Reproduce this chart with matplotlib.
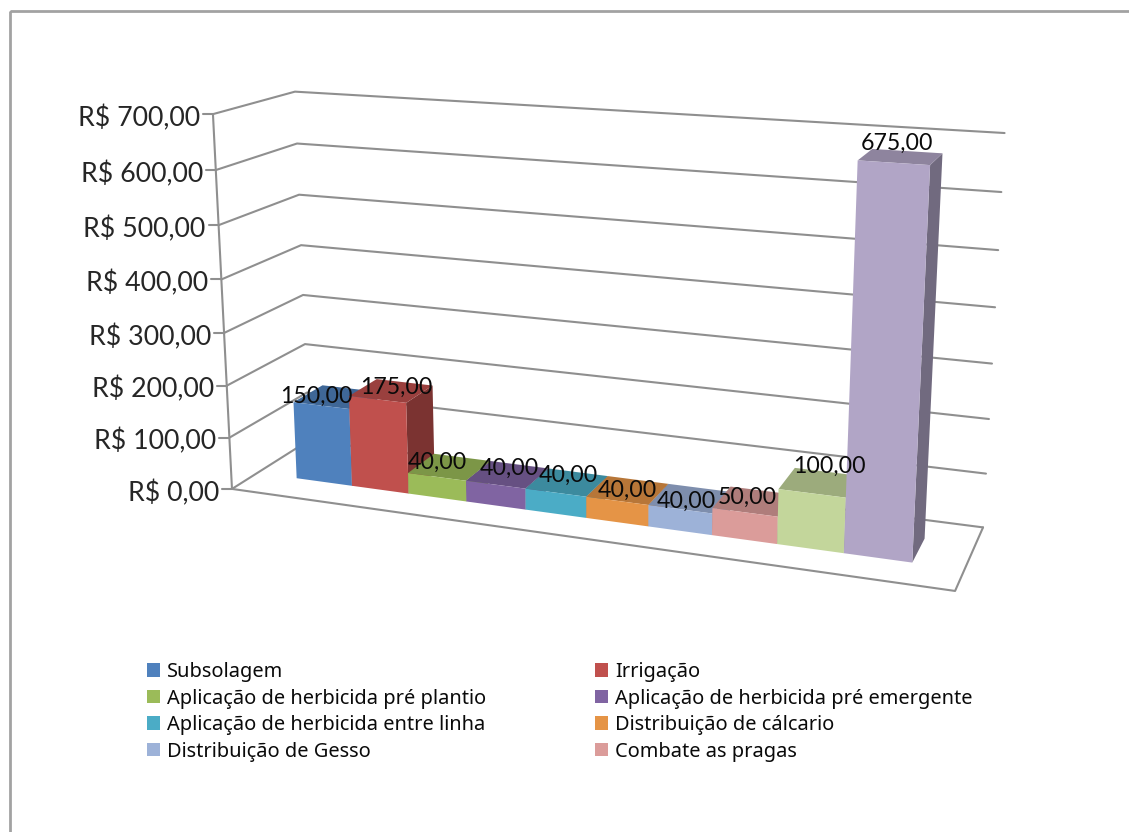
import numpy as np
import matplotlib
matplotlib.use("Agg")
import matplotlib.pyplot as plt
from matplotlib.patches import Polygon, Patch, Rectangle

plt.rcParams["font.family"] = ["Lato", "DejaVu Sans"]

# Chart data
SERIES_VALUES = [150, 175, 40, 40, 40, 40, 40, 50, 100, 675]
SERIES_COLORS = ["#4F81BD", "#C0504D", "#9BBB59", "#8064A2", "#4BACC6",
                 "#E59446", "#9DB2D8", "#DB9C9A", "#C3D69B", "#B1A5C6"]
LEGEND_NAMES = ["Subsolagem", "Irrigação",
                "Aplicação de herbicida pré plantio", "Aplicação de herbicida pré emergente",
                "Aplicação de herbicida entre linha", "Distribuição de cálcario",
                "Distribuição de Gesso", "Combate as pragas"]
AXIS_TICKS = [0, 100, 200, 300, 400, 500, 600, 700]
AXIS_MAX = 700

# Camera calibration: (x, value, depth) -> canvas pixel
CAMERA_ANCHORS = [
    (0, 0, 0, 232, 489), (0, 700, 0, 213, 114), (1, 0, 0, 955, 591),
    (0, 700, 1, 295, 92), (0, 600, 1, 297, 143), (0, 500, 1, 299, 195), (0, 200, 1, 305, 344),
    (1, 700, 1, 1004, 133), (1, 600, 1, 1002, 192), (1, 100, 1, 986, 474), (1, 0, 1, 983, 527),
]

# Bar placement on the floor, as fractions of its width and depth
BAR_START = 0.0630
BAR_WIDTH = 0.0872
BAR_FRONT = 0.315
BAR_BACK = 0.70

# Shading of the faces that do not look at the viewer
TOP_SHADE = 0.80
SIDE_SHADE = 0.64

# Value label offsets from the centre of each bar's top, in pixels
LABEL_NUDGE = [(-19, -1), (5, -3), (-12, -5), (2, -6), (1, -7), (0, 0), (-4, 3), (-6, -4), (10, -16), (-4, -13)]

GRID_COLOR = "#8f8f8f"
TEXT_COLOR = "#0a0a0a"


def fit_camera(anchors):
    rows, rhs = [], []
    for x, val, z, u, v in anchors:
        w = val / AXIS_MAX
        rows.append([x, w, z, 1, 0, 0, 0, 0, -u * x, -u * w, -u * z])
        rhs.append(u)
        rows.append([0, 0, 0, 0, x, w, z, 1, -v * x, -v * w, -v * z])
        rhs.append(v)
    sol = np.linalg.lstsq(np.array(rows, float), np.array(rhs, float), rcond=None)[0]
    return np.append(sol, 1.0).reshape(3, 4)


CAM = fit_camera(CAMERA_ANCHORS)


def project(x, val, z):
    h = CAM @ np.array([x, val / AXIS_MAX, z, 1.0])
    return h[0] / h[2], h[1] / h[2]


def shade(color, factor):
    rgb = np.array(matplotlib.colors.to_rgb(color))
    return tuple(rgb * factor)


def brl(value):
    return f"{value:.2f}".replace(".", ",")


fig = plt.figure(figsize=(11.29, 8.32), dpi=100)
ax = fig.add_axes([0, 0, 1, 1])
ax.set_xlim(0, 1129)
ax.set_ylim(832, 0)
ax.axis("off")

# Chart-area outline: runs off the canvas on the right and at the bottom
ax.add_patch(Rectangle((9.5, 11), 1200, 900, fill=False, ec="#a2a2a2", lw=2.0, zorder=1))

# Walls and floor
line_style = dict(color=GRID_COLOR, lw=1.5, solid_capstyle="round", solid_joinstyle="round", zorder=2)
for tick in AXIS_TICKS:
    a, b, c = project(0, tick, 0), project(0, tick, 1), project(1, tick, 1)
    ax.plot([a[0], b[0], c[0]], [a[1], b[1], c[1]], **line_style)
    ax.plot([a[0] - 10, a[0]], [a[1], a[1]], **line_style)
    ax.text(a[0] - 13, a[1] + 4, f"R$ {brl(tick)}", ha="right", va="center",
            fontsize=19.3, color="#262626", zorder=6)

front_axis = [project(0, 0, 0), project(0, AXIS_MAX, 0)]
ax.plot(*zip(*front_axis), **line_style)
floor = [project(0, 0, 0), project(1, 0, 0), project(1, 0, 1)]
ax.plot(*zip(*floor), **line_style)

# Bars, painted left to right so that each one covers its neighbour's side
for i, (value, color) in enumerate(zip(SERIES_VALUES, SERIES_COLORS)):
    x0 = BAR_START + i * BAR_WIDTH
    x1 = x0 + BAR_WIDTH
    z0, z1 = BAR_FRONT, BAR_BACK
    side = [project(x1, 0, z0), project(x1, 0, z1), project(x1, value, z1), project(x1, value, z0)]
    top = [project(x0, value, z0), project(x1, value, z0), project(x1, value, z1), project(x0, value, z1)]
    front = [project(x0, 0, z0), project(x1, 0, z0), project(x1, value, z0), project(x0, value, z0)]
    ax.add_patch(Polygon(side, closed=True, fc=shade(color, SIDE_SHADE), ec="none", zorder=3 + i * 0.01))
    ax.add_patch(Polygon(top, closed=True, fc=shade(color, TOP_SHADE), ec="none", zorder=3 + i * 0.01))
    ax.add_patch(Polygon(front, closed=True, fc=color, ec="none", zorder=3 + i * 0.01))

# Value labels over the bars
for i, value in enumerate(SERIES_VALUES):
    cx, cy = project(BAR_START + (i + 0.5) * BAR_WIDTH, value, (BAR_FRONT + BAR_BACK) / 2)
    dx, dy = LABEL_NUDGE[i]
    ax.text(cx + dx, cy + dy, brl(value), ha="center", va="center", fontsize=16.7,
            color=TEXT_COLOR, zorder=7)

# Legend lists the first eight series in two columns, filled column by column
handles = [Patch(fc=c, ec="none") for c in SERIES_COLORS[:8]]
order = [0, 2, 4, 6, 1, 3, 5, 7]
leg_size = 14.4
px_per_em = leg_size * 100 / 72
ax.legend([handles[k] for k in order], [LEGEND_NAMES[k] for k in order], ncol=2,
          loc="upper left", bbox_to_anchor=(147 / 1129, 1 - 662 / 832), frameon=False,
          handlelength=13 / px_per_em, handleheight=13 / px_per_em,
          handletextpad=7 / px_per_em, labelspacing=0.33, columnspacing=5.45,
          borderaxespad=0, borderpad=0, labelcolor=TEXT_COLOR, prop={"family": "Noto Sans", "size": leg_size})

fig.savefig("out.png", dpi=100)
